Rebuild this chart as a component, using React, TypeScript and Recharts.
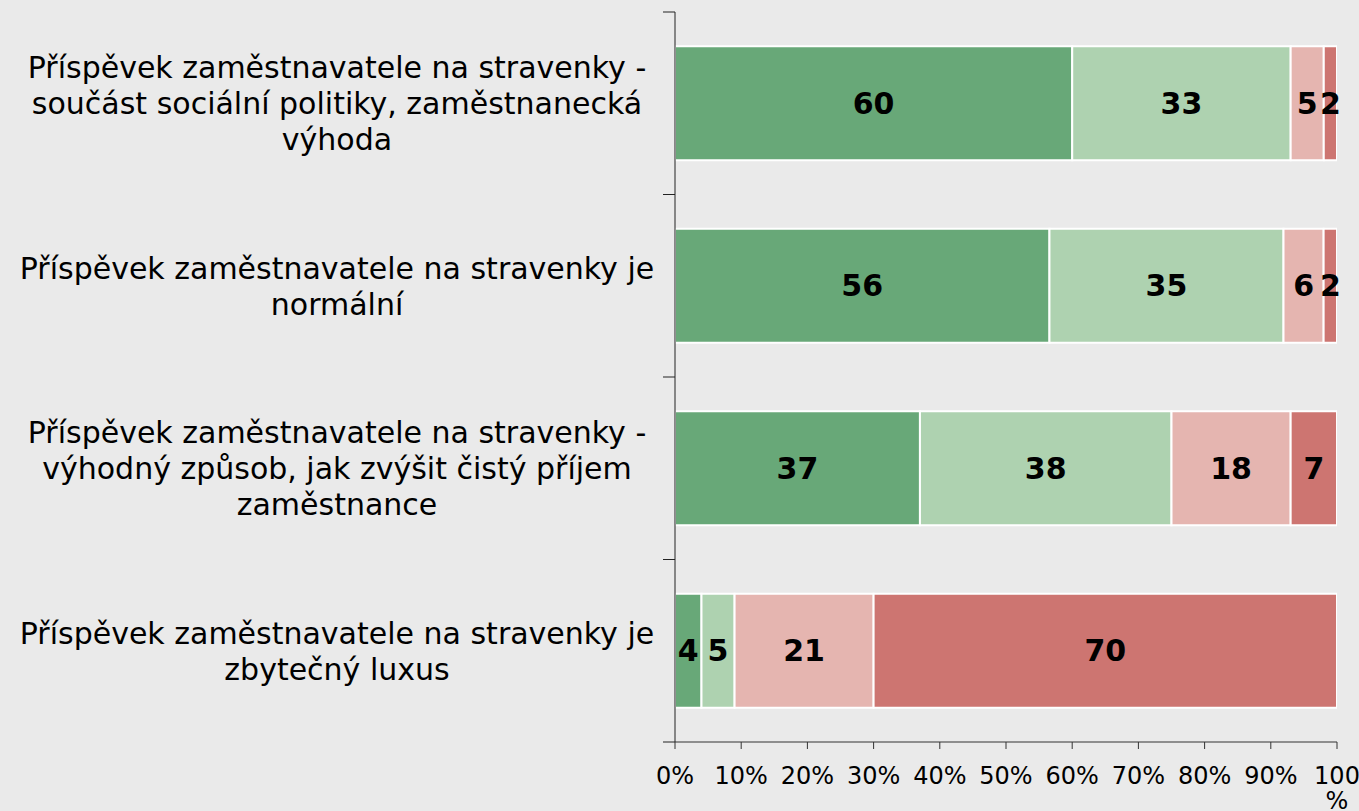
import React from "react";
import { BarChart, Bar, XAxis, YAxis, LabelList } from "recharts";

const categories = [
  "Příspěvek zaměstnavatele na stravenky - součást sociální politiky, zaměstnanecká výhoda",
  "Příspěvek zaměstnavatele na stravenky je normální",
  "Příspěvek zaměstnavatele na stravenky - výhodný způsob, jak zvýšit čistý příjem zaměstnance",
  "Příspěvek zaměstnavatele na stravenky je zbytečný luxus",
];
const categoryLines = [
  ["Příspěvek zaměstnavatele na stravenky -", "součást sociální politiky, zaměstnanecká", "výhoda"],
  ["Příspěvek zaměstnavatele na stravenky je", "normální"],
  ["Příspěvek zaměstnavatele na stravenky -", "výhodný způsob, jak zvýšit čistý příjem", "zaměstnance"],
  ["Příspěvek zaměstnavatele na stravenky je", "zbytečný luxus"],
];
const s1 = [60, 56, 37, 4];
const s2 = [33, 35, 38, 5];
const s3 = [5, 6, 18, 21];
const s4 = [2, 2, 7, 70];
const xTicks = [0, 0.1, 0.2, 0.3, 0.4, 0.5, 0.6, 0.7, 0.8, 0.9, 1];
const xTickLabels = ["0%", "10%", "20%", "30%", "40%", "50%", "60%", "70%", "80%", "90%", "100 %"];

const colors = ["#68a878", "#aed2b0", "#e5b5b0", "#cd7571"];
const seriesKeys = ["s1", "s2", "s3", "s4"];

const data = categories.map((name, i) => ({
  name,
  s1: s1[i],
  s2: s2[i],
  s3: s3[i],
  s4: s4[i],
}));

const CHART_W = 1359;
const CHART_H = 811;
const MARGIN = { top: 12, right: 22, bottom: 0, left: 0 };
const X_AXIS_H = 69;
const Y_AXIS_W = 675;
const PLOT_H = CHART_H - MARGIN.top - MARGIN.bottom - X_AXIS_H;
const BAND = PLOT_H / categories.length;

const FONT = "'DejaVu Sans', sans-serif";

const YTick = (props: any) => {
  const { x, y, index } = props;
  const lines = categoryLines[index] || [];
  const lh = 36;
  const start = y - ((lines.length - 1) * lh) / 2;
  const isLast = index === categories.length - 1;
  return (
    <g>
      <line x1={x - 12} y1={y - BAND / 2} x2={x} y2={y - BAND / 2} stroke="#222" strokeWidth={1} />
      {isLast && (
        <line x1={x - 12} y1={y + BAND / 2} x2={x} y2={y + BAND / 2} stroke="#222" strokeWidth={1} />
      )}
      <text textAnchor="middle" fontFamily={FONT} fontSize={30} fill="#000">
        {lines.map((l, i) => (
          <tspan key={i} x={x - 338} y={start + i * lh + 11}>
            {l}
          </tspan>
        ))}
      </text>
    </g>
  );
};

const XTick = (props: any) => {
  const { x, y, payload, index } = props;
  const label = xTickLabels[index] ?? String(payload.value);
  const parts = label.split(" ");
  return (
    <text textAnchor="middle" fontFamily={FONT} fontSize={24} fill="#000">
      {parts.map((p, i) => (
        <tspan key={i} x={x} y={y + 33 + i * 25}>
          {p}
        </tspan>
      ))}
    </text>
  );
};

export default function App() {
  return (
    <div
      style={{
        position: "absolute",
        left: 0,
        top: 0,
        width: CHART_W,
        height: CHART_H,
        background: "#eaeaea",
        overflow: "hidden",
      }}
    >
      <BarChart
        width={CHART_W}
        height={CHART_H}
        data={data}
        layout="vertical"
        stackOffset="expand"
        barCategoryGap="18.75%"
        margin={MARGIN}
      >
        <XAxis
          type="number"
          domain={[0, 1]}
          ticks={xTicks}
          interval={0}
          height={X_AXIS_H}
          tickSize={7}
          tickMargin={2}
          axisLine={{ stroke: "#333" }}
          tickLine={{ stroke: "#333" }}
          tick={<XTick />}
          allowDataOverflow
        />
        <YAxis
          type="category"
          dataKey="name"
          width={Y_AXIS_W}
          interval={0}
          tickSize={0}
          tickMargin={0}
          tickLine={false}
          axisLine={{ stroke: "#222" }}
          tick={<YTick />}
        />
        {seriesKeys.map((k, i) => (
          <Bar
            key={k}
            dataKey={k}
            stackId="a"
            fill={colors[i]}
            stroke="#ffffff"
            strokeWidth={2}
            isAnimationActive={false}
          >
            <LabelList
              dataKey={k}
              position="center"
              fill="#000"
              fontFamily={FONT}
              fontWeight="bold"
              fontSize={30}
            />
          </Bar>
        ))}
      </BarChart>
    </div>
  );
}
